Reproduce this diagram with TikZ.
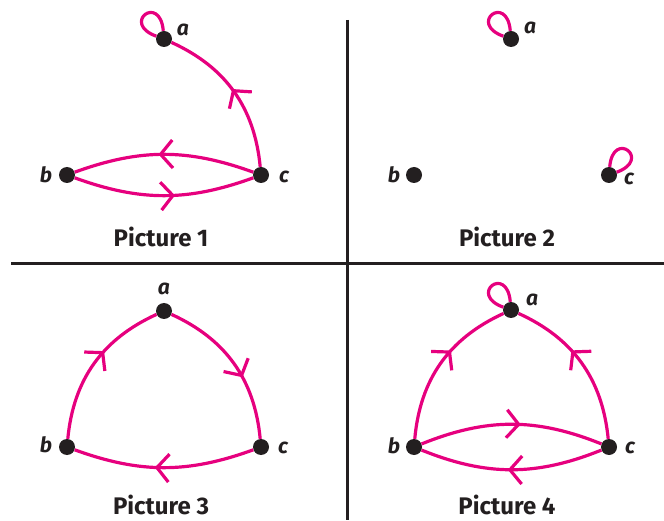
\documentclass[tikz,border=0pt]{standalone}
\usepackage{fontspec}
\setmainfont{Fira Sans}
\usetikzlibrary{arrows.meta,decorations.markings}
\definecolor{pk}{RGB}{230,0,126}
\definecolor{ink}{RGB}{35,31,32}
\begin{document}
\begin{tikzpicture}[x=1pt,y=1pt,
  dot/.style={circle,fill=ink,inner sep=0pt,minimum size=16pt},
  edge/.style={draw=pk,line width=3.2pt},
  mid/.style={postaction={decorate},decoration={markings,mark=at position #1 with {\arrow[pk,line width=3.2pt]{Straight Barb[length=12pt,width=28pt]}}}},
  lbl/.style={font=\fontsize{21}{21}\selectfont\bfseries\itshape,text=ink,inner sep=1pt},
  captext/.style={font=\fontsize{24}{24}\selectfont\bfseries,text=ink,anchor=base,inner sep=0pt},
  divline/.style={draw=ink,line width=3pt}]
\useasboundingbox (0,0) rectangle (664,520);
% dividers
\coordinate (v1) at (347,500);
\coordinate (v2) at (347,0);
\coordinate (h1) at (11,256);
\coordinate (h2) at (664,256);
\draw[divline] (v1) -- (v2);
\draw[divline] (h1) -- (h2);
% ---------- Picture 1
\node[dot] (a1) at (164,481) {};
\node[dot] (b1) at (67,345) {};
\node[dot] (c1) at (261,345) {};
\node[lbl] at (183,490) {a};
\node[lbl] at (46,345) {b};
\node[lbl] at (284,343) {c};
\draw[edge] (a1) to[out=160,in=95,distance=38pt] (a1);
\draw[edge,mid=0.52] (c1) to[bend right=30] (a1);
\draw[edge,mid=0.53] (c1) to[bend right=20] (b1);
\draw[edge,mid=0.56] (b1) to[bend right=20] (c1);
\node[captext] (p1) at (161,273) {Picture 1};
% ---------- Picture 2
\node[dot] (a2) at (511,481) {};
\node[dot] (b2) at (414,345) {};
\node[dot] (c2) at (609,345) {};
\node[lbl] at (530,492) {a};
\node[lbl] at (394,345) {b};
\node[lbl] at (629,341) {c};
\draw[edge] (a2) to[out=160,in=95,distance=38pt] (a2);
\draw[edge] (c2) to[out=85,in=20,distance=38pt] (c2);
\node[captext] (p2) at (507,273) {Picture 2};
% ---------- Picture 3
\node[dot] (a3) at (164,209) {};
\node[dot] (b3) at (67,73) {};
\node[dot] (c3) at (261,73) {};
\node[lbl] at (164,231) {a};
\node[lbl] at (46,75) {b};
\node[lbl] at (283,72) {c};
\draw[edge,mid=0.6] (b3) to[bend left=30] (a3);
\draw[edge,mid=0.6] (a3) to[bend left=30] (c3);
\draw[edge,mid=0.55] (c3) to[bend left=20] (b3);
\node[captext] (p3) at (161,6) {Picture 3};
% ---------- Picture 4
\node[dot] (a4) at (511,210) {};
\node[dot] (b4) at (414,73) {};
\node[dot] (c4) at (609,73) {};
\node[lbl] at (532,220) {a};
\node[lbl] at (394,74) {b};
\node[lbl] at (630,72) {c};
\draw[edge] (a4) to[out=160,in=95,distance=38pt] (a4);
\draw[edge,mid=0.6] (b4) to[bend left=30] (a4);
\draw[edge,mid=0.6] (c4) to[bend right=30] (a4);
\draw[edge,mid=0.55] (b4) to[bend left=22] (c4);
\draw[edge,mid=0.52] (c4) to[bend left=22] (b4);
\node[captext] (p4) at (507,6) {Picture 4};
\end{tikzpicture}
\end{document}
